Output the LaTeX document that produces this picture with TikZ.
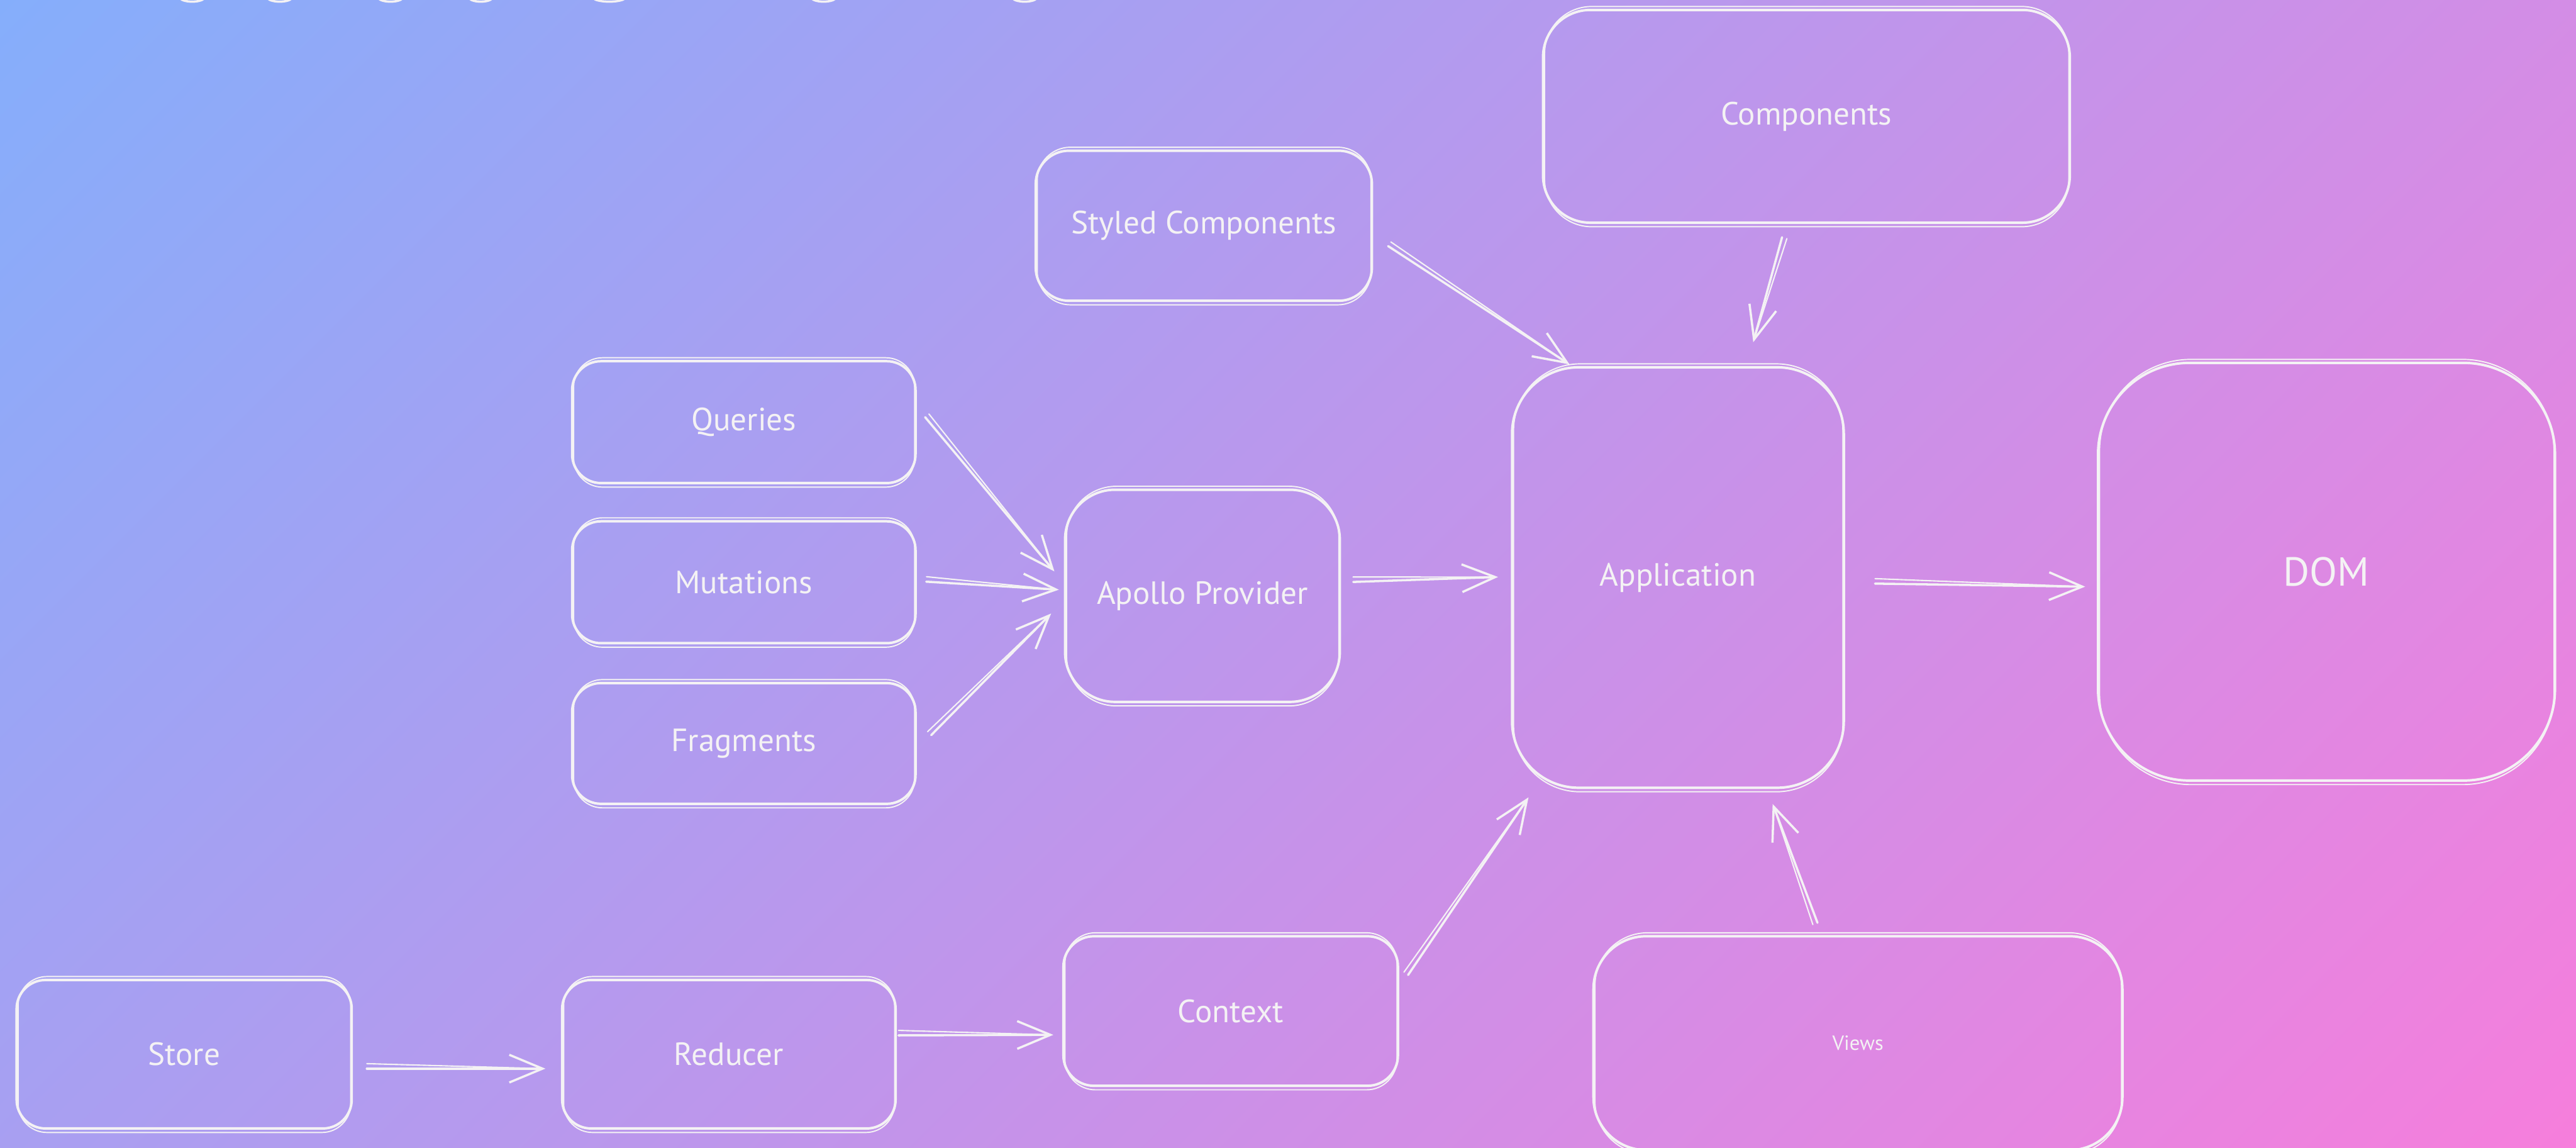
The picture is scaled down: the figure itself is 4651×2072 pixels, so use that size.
\documentclass[tikz,border=0pt]{standalone}
\usepackage{fontspec}
\setmainfont{PT Sans}
\usetikzlibrary{arrows.meta,calc}

\definecolor{skyend}{HTML}{85AEFB}
\definecolor{pinkend}{HTML}{F67EDC}
\definecolor{chalk}{HTML}{F4F2F4}

% colour change over the middle quarter of the shading square
\pgfdeclarehorizontalshading{bgshade}{100bp}{color(0bp)=(skyend); color(37.5bp)=(skyend); color(62.5bp)=(pinkend); color(100bp)=(pinkend)}

\newcommand\cardfont{\fontsize{58}{68}\selectfont}
\newcommand\bigcardfont{\fontsize{73}{84}\selectfont}
\newcommand\smallcardfont{\fontsize{37}{44}\selectfont}

\tikzset{
  card/.style={draw=chalk, line width=4.5pt, text=chalk, inner sep=0pt, font=\cardfont},
  cardtwin/.style={draw=chalk, line width=2.2pt},
  flow/.style={draw=chalk, line width=4pt, line cap=round,
    -{Straight Barb[length=60pt,width=50pt]}},
  flowtwin/.style={draw=chalk, line width=2.4pt, line cap=round},
}

% second, slightly offset outline for the hand-drawn look
\newcommand\twinbox[2]{%
  \draw[cardtwin, rounded corners=#2] ($(#1.north west)+(5,-4)$) rectangle ($(#1.south east)+(-4,5)$);}
% arrow drawn as a main stroke plus a thinner companion stroke
\newcommand\link[2]{%
  \draw[flow] (#1) -- (#2);
  \draw[flowtwin] ($(#1)!9pt!90:(#2)$) -- ($(#2)!5pt!(#1)$);}

\begin{document}
\begin{tikzpicture}[x=1pt,y=-1pt]
\useasboundingbox (0,0) rectangle (4651,2072);

% diagonal background gradient
\begin{scope}
  \clip (0,0) rectangle (4651,2072);
  \begin{scope}[transform canvas={rotate around={-45:(2325.5,1036)}}]
    \shade[shading=bgshade]
      (2325.5-4754,1036-4754) rectangle (2325.5+4754,1036+4754);
  \end{scope}
  % lower ends of strokes running in from the top edge
  \foreach \x/\r in {347/23,505/23,705/23,868/22,1100/30,1487/23,1850/23}
    \fill[chalk, even odd rule] (\x,-3) ellipse ({\r} and 8) (\x,-3) ellipse ({\r-7} and 4);
\end{scope}

% boxes
\node[card, minimum width=951, minimum height=384, rounded corners=85] (comp) at (3261.5,210) {Components};
\node[card, minimum width=607, minimum height=271, rounded corners=60] (styled) at (2173.5,407.5) {Styled Components};
\node[card, minimum width=620, minimum height=220, rounded corners=52] (queries) at (1343,762) {Queries};
\node[card, minimum width=620, minimum height=220, rounded corners=52] (mutations) at (1343,1051) {Mutations};
\node[card, minimum width=620, minimum height=218, rounded corners=52] (fragments) at (1343,1342) {Fragments};
\node[card, minimum width=496, minimum height=383, rounded corners=90] (apollo) at (2171,1075.5) {Apollo Provider};
\node[card, minimum width=599, minimum height=759, rounded corners=120] (app) at (3029.5,1042.5) {Application};
\node[card, minimum width=825, minimum height=754, rounded corners=165, font=\bigcardfont] (dom) at (4200.5,1032) {DOM};
\node[card, minimum width=605, minimum height=268, rounded corners=52] (store) at (332.5,1903) {Store};
\node[card, minimum width=602, minimum height=268, rounded corners=52] (reducer) at (1316,1903) {Reducer};
\node[card, minimum width=604, minimum height=270, rounded corners=55] (context) at (2222,1825) {Context};
\node[card, minimum width=955, minimum height=386, rounded corners=95, font=\smallcardfont] (views) at (3354.5,1883) {Views};

\twinbox{comp}{85}
\twinbox{styled}{60}
\twinbox{queries}{52}
\twinbox{mutations}{52}
\twinbox{fragments}{52}
\twinbox{apollo}{90}
\twinbox{app}{120}
\twinbox{dom}{165}
\twinbox{store}{52}
\twinbox{reducer}{52}
\twinbox{context}{55}
\twinbox{views}{95}

% arrow ends
\coordinate (sA) at ($(styled.south east)+(27,-101)$);
\coordinate (sB) at ($(app.north west)+(106,-3)$);
\coordinate (cA) at ($(comp.south)+(-44,24)$);
\coordinate (cB) at ($(app.north)+(136,-43)$);
\coordinate (qA) at ($(queries.east)+(15,-9)$);
\coordinate (qB) at ($(apollo.west)+(-17,-44)$);
\coordinate (mA) at ($(mutations.east)+(17,-1)$);
\coordinate (mB) at ($(apollo.west)+(-9,-11)$);
\coordinate (fA) at ($(fragments.east)+(26,-15)$);
\coordinate (fB) at ($(apollo.west)+(-23,32)$);
\coordinate (pA) at ($(apollo.east)+(22,-25)$);
\coordinate (pB) at ($(app.west)+(-23,-1)$);
\coordinate (aA) at ($(app.east)+(54,11)$);
\coordinate (aB) at ($(dom.west)+(-21,27)$);
\coordinate (tA) at ($(store.east)+(25,26)$);
\coordinate (tB) at ($(reducer.west)+(-28,26)$);
\coordinate (rA) at ($(reducer.east)+(3,-34)$);
\coordinate (rB) at ($(context.west)+(-16,43)$);
\coordinate (xA) at ($(context.east)+(16,-65)$);
\coordinate (xB) at ($(app.south west)+(32,15)$);
\coordinate (vA) at ($(views.north)+(-73,-22)$);
\coordinate (vB) at ($(app.south)+(171,27)$);

% connectors
\link{sA}{sB}
\link{cA}{cB}
\link{qA}{qB}
\link{mA}{mB}
\link{fA}{fB}
\link{pA}{pB}
\link{aA}{aB}
\link{tA}{tB}
\link{rA}{rB}
\link{xA}{xB}
\link{vA}{vB}
\end{tikzpicture}
\end{document}
